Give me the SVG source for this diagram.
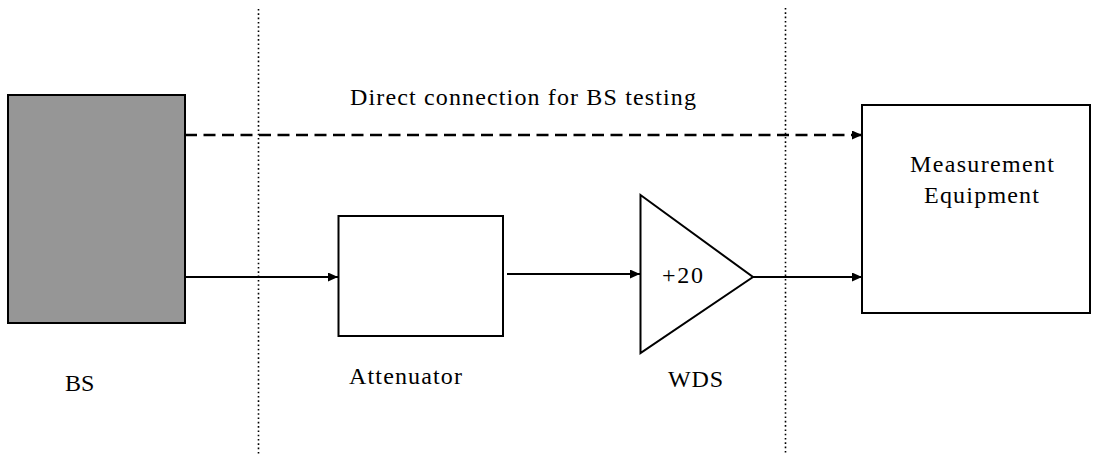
<svg xmlns="http://www.w3.org/2000/svg" width="1094" height="454" viewBox="0 0 1094 454">
<style>
text{font-family:"Liberation Serif";font-size:24px;fill:#000}
.box{stroke:#000;stroke-width:2;fill:#fff}
.ln{stroke:#000;stroke-width:2;fill:none}
.dash{stroke:#000;stroke-width:2.6;fill:none;stroke-dasharray:12 6.5}
.dot{stroke:#000;stroke-width:1.6;fill:none;stroke-dasharray:1.6 2.7}
</style>
<defs>
<marker id="arr" markerUnits="userSpaceOnUse" markerWidth="11" markerHeight="9" refX="10" refY="4.5" orient="auto">
<path d="M0,0 L10,4.5 L0,9 z" fill="#000"/>
</marker>
</defs>
<g id="separators">
<line class="dot" x1="258.5" y1="9" x2="258.5" y2="454"/>
<line class="dot" x1="785.5" y1="8" x2="785.5" y2="454"/>
</g>
<g id="bs">
<rect x="8" y="95" width="177" height="228" fill="#969696" stroke="#000" stroke-width="2"/>
<text font-family="Liberation Serif" x="65" y="391">BS</text>
</g>
<g id="attenuator">
<rect class="box" x="338.5" y="216" width="164.5" height="120"/>
<text font-family="Liberation Serif" x="349" y="384" textLength="113" lengthAdjust="spacing">Attenuator</text>
</g>
<g id="wds">
<polygon class="box" points="640.5,195 753,277 640.5,353"/>
<text font-family="Liberation Serif" x="662" y="283" textLength="41" lengthAdjust="spacing">+20</text>
<text font-family="Liberation Serif" x="668" y="387" textLength="55" lengthAdjust="spacing">WDS</text>
</g>
<g id="measurement">
<rect class="box" x="862" y="105" width="228" height="208"/>
<text font-family="Liberation Serif" x="910" y="172" textLength="144" lengthAdjust="spacing">Measurement</text>
<text font-family="Liberation Serif" x="924" y="203" textLength="115" lengthAdjust="spacing">Equipment</text>
</g>
<g id="connectors">
<line class="dash" x1="185" y1="135" x2="862" y2="135" marker-end="url(#arr)"/>
<text font-family="Liberation Serif" x="350" y="105" textLength="346" lengthAdjust="spacing">Direct connection for BS testing</text>
<line class="ln" x1="185" y1="277" x2="338" y2="277" marker-end="url(#arr)"/>
<line class="ln" x1="507" y1="274" x2="640" y2="274" marker-end="url(#arr)"/>
<line class="ln" x1="753" y1="277" x2="862" y2="277" marker-end="url(#arr)"/>
</g>
</svg>
